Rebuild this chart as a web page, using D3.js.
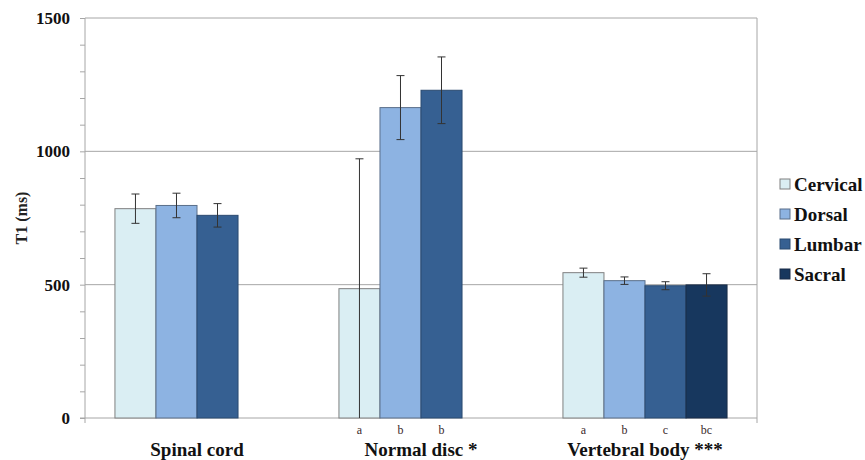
<!DOCTYPE html>
<html>
<head>
<meta charset="utf-8">
<script src="https://cdn.jsdelivr.net/npm/d3@7"></script>
<style>
  body { margin: 0; background: #fff; }
</style>
</head>
<body>
<div id="chart"></div>
<script>
// data
var categories = ["Spinal cord", "Normal disc *", "Vertebral body ***"];
var regions = ["Cervical", "Dorsal", "Lumbar", "Sacral"];
var colors = ["#daeef3", "#8db3e2", "#366092", "#17375e"];
// mean T1 per category, per region (null = not measured)
var cervical = [785, 485, 545];
var dorsal   = [797, 1164, 515];
var lumbar   = [760, 1229, 496];
var sacral   = [null, null, 499];
// error (+/-)
var errCervical = [55, 487, 17];
var errDorsal   = [46, 120, 14];
var errLumbar   = [44, 125, 15];
var errSacral   = [null, null, 42];
// significance letters under bars
var letters = [
  ["", "", "", ""],
  ["a", "b", "b", ""],
  ["a", "b", "c", "bc"]
];
var yTicks = [0, 500, 1000, 1500];

var FONT = "Liberation Serif";

var W = 865, H = 460;
var margin = {top: 18, right: 108, bottom: 42, left: 85};
var width = W - margin.left - margin.right,
    height = H - margin.top - margin.bottom;

var svg = d3.select("#chart").append("svg")
    .attr("width", W).attr("height", H);
var g = svg.append("g").attr("transform", "translate(" + margin.left + "," + margin.top + ")");

var series = [cervical, dorsal, lumbar, sacral];
var errs = [errCervical, errDorsal, errLumbar, errSacral];

var x0 = d3.scaleBand().domain(categories).range([0, width]);
var x1 = d3.scaleBand().domain(regions)
    .range([0, x0.bandwidth()])
    .paddingOuter(0.73).paddingInner(0);
var y = d3.scaleLinear().domain([0, 1500]).range([height, 0]);

var gridColor = "#a6a6a6";

// grid lines
g.selectAll(".grid").data(yTicks.slice(1)).enter().append("line")
    .attr("x1", 0).attr("x2", width)
    .attr("y1", function(d) { return y(d); })
    .attr("y2", function(d) { return y(d); })
    .attr("stroke", gridColor).attr("stroke-width", 1);

// right border
g.append("line")
    .attr("x1", width).attr("x2", width)
    .attr("y1", 0).attr("y2", height + 5)
    .attr("stroke", gridColor);

// y axis with minor ticks
var yMinor = d3.range(0, 1501, 100);
g.append("g")
    .call(d3.axisLeft(y).tickValues(yMinor).tickSize(5).tickFormat(""))
    .call(function(a) {
      a.select(".domain").attr("stroke", gridColor).attr("d", "M0," + (height + 5) + "V0");
      a.selectAll(".tick line").attr("stroke", gridColor);
    });
g.append("g")
    .call(d3.axisLeft(y).tickValues(yTicks).tickSize(0).tickPadding(15).tickFormat(d3.format("d")))
    .call(function(a) {
      a.attr("font-family", FONT).attr("font-size", 17).attr("font-weight", "bold");
      a.select(".domain").remove();
      a.selectAll("text").attr("fill", "#111");
    });

// x axis line
g.append("line")
    .attr("x1", -5).attr("x2", width)
    .attr("y1", height).attr("y2", height)
    .attr("stroke", gridColor);

// bars
var groups = g.selectAll(".cat").data(categories).enter().append("g")
    .attr("transform", function(d) { return "translate(" + x0(d) + ",0)"; });

var strokes = ["#808080", "#5a6f8a", "#2a4a70", "#1a2d48"];

groups.each(function(cat, ci) {
  var grp = d3.select(this);
  regions.forEach(function(r, ri) {
    var v = series[ri][ci];
    if (v == null) return;
    var bx = x1(r), bw = x1.bandwidth();
    grp.append("rect")
      .attr("x", bx).attr("width", bw)
      .attr("y", y(v)).attr("height", height - y(v))
      .attr("fill", colors[ri])
      .attr("stroke", strokes[ri]).attr("stroke-width", 1);
    var e = errs[ri][ci];
    var cx = bx + bw / 2;
    var hi = y(v + e), lo = y(Math.max(0, v - e));
    grp.append("line").attr("x1", cx).attr("x2", cx).attr("y1", hi).attr("y2", lo)
      .attr("stroke", "#333").attr("stroke-width", 1);
    grp.append("line").attr("x1", cx - 4).attr("x2", cx + 4).attr("y1", hi).attr("y2", hi)
      .attr("stroke", "#333").attr("stroke-width", 1);
    if (v - e > 0) {
      grp.append("line").attr("x1", cx - 4).attr("x2", cx + 4).attr("y1", lo).attr("y2", lo)
        .attr("stroke", "#333").attr("stroke-width", 1);
    }
    var lt = letters[ci][ri];
    if (lt) {
      grp.append("text")
        .attr("x", cx).attr("y", height + 16)
        .attr("text-anchor", "middle")
        .style("font-family", FONT)
        .style("font-size", "12px").attr("fill", "#3a2a2a")
        .text(lt);
    }
  });
});

// category labels, centred on the 4-bar slot
g.selectAll(".catlabel").data(categories).enter().append("text")
    .attr("x", function(d) { return x0(d) + x0.bandwidth() / 2; })
    .attr("y", height + 38)
    .attr("text-anchor", "middle")
    .style("font-family", FONT)
    .style("font-size", "19px").style("font-weight", "bold").attr("fill", "#111")
    .text(function(d) { return d; });

// y title
svg.append("text")
    .attr("transform", "translate(27," + 218 + ") rotate(-90)")
    .attr("text-anchor", "middle")
    .style("font-family", FONT)
    .style("font-size", "16px").style("font-weight", "bold").attr("fill", "#222")
    .text("T1 (ms)");

// legend
var legend = svg.append("g").attr("transform", "translate(780,184)");
var li = legend.selectAll(".li").data(regions).enter().append("g")
    .attr("transform", function(d, i) { return "translate(0," + (i * 30) + ")"; });
li.append("rect")
    .attr("x", 0).attr("y", -5).attr("width", 10).attr("height", 10)
    .attr("fill", function(d, i) { return colors[i]; })
    .attr("stroke", function(d, i) { return strokes[i]; });
li.append("text")
    .attr("x", 14).attr("y", 6.5)
    .style("font-family", FONT)
    .style("font-size", "19px").style("font-weight", "bold").attr("fill", "#111")
    .text(function(d) { return d; });
</script>
</body>
</html>
